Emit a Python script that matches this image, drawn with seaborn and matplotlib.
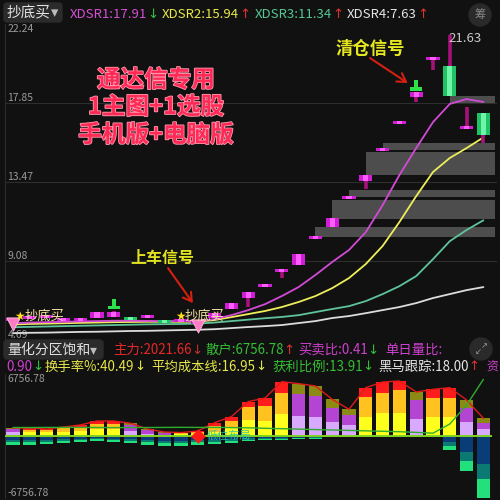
import matplotlib
matplotlib.use("Agg")
import matplotlib.pyplot as plt
import matplotlib.patheffects as pe
from matplotlib.patches import FancyBboxPatch, Circle
from matplotlib.path import Path
import numpy as np
import pandas as pd
import seaborn as sns

# ===== 主图 K线 (29 根) =====
opens = [5.74, 5.85, 5.91, 5.74, 5.74, 5.91, 5.96, 5.96, 5.93, 5.80, 5.70, 5.60, 5.91, 6.41, 7.02,
         7.63, 8.46, 8.85, 10.29, 10.96, 12.50, 13.52, 15.18, 16.68, 18.18, 20.25, 19.90, 16.40, 17.30]
closes = [5.80, 5.91, 5.96, 5.80, 5.91, 6.24, 6.24, 5.80, 5.99, 5.63, 5.76, 5.70, 6.18, 6.74, 7.35,
          7.79, 8.63, 9.46, 10.41, 11.46, 12.63, 13.85, 15.30, 16.80, 18.46, 20.37, 18.24, 16.52, 16.07]
highs = [5.80, 5.91, 5.96, 5.80, 5.91, 6.24, 6.30, 5.96, 5.99, 5.80, 5.76, 5.70, 6.18, 6.74, 7.35,
         7.79, 8.63, 9.46, 10.41, 11.46, 12.63, 13.85, 15.30, 16.80, 18.46, 20.37, 21.63, 17.63, 17.30]
lows = [5.74, 5.85, 5.91, 5.74, 5.74, 5.91, 5.96, 5.80, 5.93, 5.63, 5.70, 5.60, 5.91, 6.41, 6.52,
        7.63, 8.13, 8.85, 10.29, 10.96, 12.50, 13.07, 15.18, 16.68, 17.90, 19.69, 18.24, 16.40, 15.63]

# 均线
xdsr1 = [5.62, 5.66, 5.68, 5.70, 5.72, 5.74, 5.76, 5.76, 5.75, 5.74, 5.74, 5.75, 5.85, 6.07, 6.35,
         6.68, 7.13, 7.63, 8.30, 9.02, 9.69, 10.68, 12.18, 13.85, 15.35, 16.79, 17.80, 18.07, 17.91]
xdsr2 = [5.55, 5.58, 5.60, 5.62, 5.64, 5.66, 5.68, 5.69, 5.70, 5.70, 5.70, 5.71, 5.80, 5.96, 6.13,
         6.30, 6.52, 6.80, 7.13, 7.57, 8.13, 8.91, 9.91, 11.24, 12.68, 14.02, 14.80, 15.35, 15.94]
xdsr3 = [5.40, 5.42, 5.44, 5.46, 5.48, 5.50, 5.52, 5.54, 5.56, 5.57, 5.58, 5.60, 5.66, 5.74, 5.82,
         5.90, 5.97, 6.07, 6.24, 6.41, 6.57, 6.85, 7.24, 7.68, 8.24, 9.18, 10.18, 10.80, 11.34]
xdsr4 = [5.07, 5.09, 5.10, 5.12, 5.14, 5.15, 5.17, 5.19, 5.20, 5.22, 5.24, 5.26, 5.29, 5.35, 5.41,
         5.46, 5.52, 5.63, 5.74, 5.91, 6.02, 6.18, 6.35, 6.52, 6.74, 7.02, 7.24, 7.46, 7.63]

# 灰色筹码区
zone_start = [18, 19, 20, 21, 22, 26]
zone_low = [10.41, 11.41, 12.63, 13.85, 15.24, 17.85]
zone_high = [10.96, 12.46, 13.02, 15.13, 15.63, 18.24]

buy_idx = [0, 11]
sell_idx = [6, 24]
price_ticks = [22.24, 17.85, 13.47, 9.08, 4.69]

# ===== 副图 量化分区饱和 =====
kinds = ['c', 'h', 'h', 'h', 'h', 'h', 'h', 'c', 'c', 'c', 'h', 'h', 'h', 'h', 'h',
         'h', 'h', 'c', 'c', 'c', 'c', 'h', 'h', 'h', 'c', 'h', 'h', 'c', 'c']
seg_bottom = [466, 466, 466, 524, 583, 777, 777, 583, 270, 117, 233, 233, 501, 896, 1864,
              1748, 2524, 2330, 2214, 1670, 1243, 2214, 2641, 2641, 1942, 2214, 2214, 1631, 777]
seg_mid = [350, 291, 233, 350, 385, 583, 583, 664, 466, 233, 117, 175, 664, 896, 1476,
           1748, 2524, 2524, 2447, 1631, 1204, 2330, 2408, 2680, 2214, 2175, 2253, 1670, 777]
seg_top = [117, 175, 117, 175, 315, 388, 388, 233, 80, 117, 50, 175, 385, 466, 664,
           932, 1282, 1243, 1165, 971, 660, 1087, 1243, 1087, 971, 1049, 1165, 893, 505]
neg_vals = [-1050, -1050, -930, -815, -700, -580, -700, -815, -1050, -1200, -1200, -1050, -930, -815, -600,
            -500, -450, -400, -300, -150, -150, -100, -100, -100, -100, -100, -1630, -4080, -7220]
green_line = [990, 990, 1000, 1000, 1000, 990, 980, 980, 990, 1000, 1010, 1000, 1000, 980, 950,
              900, 850, 800, 750, 700, 650, 600, 550, 500, 420, 330, 1400, 3600, 6600]
vol_lim = 6756.78

W, H = 500, 500
BG = '#111111'

sns.set_theme(style='dark', rc={'axes.facecolor': BG, 'figure.facecolor': BG})
plt.rcParams['font.family'] = ['Noto Sans CJK SC', 'DejaVu Sans']
plt.rcParams['axes.unicode_minus'] = False
SYM = ['DejaVu Sans']

fig = plt.figure(figsize=(5, 5), dpi=100)
fig.patch.set_facecolor(BG)


def px_to_idx(p):
    return (p - 13) / 16.8


def fx(x):
    return x / W


def fy(y):
    return 1 - y / H


ax = fig.add_axes([fx(5), fy(340), 492 / W, 316 / H])
ax2 = fig.add_axes([fx(5), fy(498), 492 / W, 124 / H])
for a in (ax, ax2):
    a.set_facecolor(BG)
    a.set_xticks([])
    a.set_yticks([])
    for s in a.spines.values():
        s.set_visible(False)
    a.spines['left'].set_visible(True)
    a.spines['left'].set_color('#2c2c2c')
    a.spines['left'].set_linewidth(0.8)
    a.set_xlim(px_to_idx(5), px_to_idx(497))

n = len(opens)
idx = np.arange(n)
o = np.array(opens)
c = np.array(closes)

# ---- 主图 ----
ax.set_ylim(price_ticks[-1], price_ticks[0])
for v in price_ticks[1:4]:
    ax.axhline(v, color='#2e2e2e', lw=0.8, zorder=0)
ytr = ax.get_yaxis_transform()
for k, v in enumerate(price_ticks):
    ax.text(0.005, v, f'{v:.2f}', transform=ytr, color='#9a9a9a', fontsize=7.5,
            va='top' if k == 0 else 'bottom', ha='left')

zs = np.array(zone_start)
zl = np.array(zone_low)
zh = np.array(zone_high)
right_edge = px_to_idx(495)
ax.barh(y=(zl + zh) / 2, width=right_edge - zs, left=zs, height=zh - zl,
        color='#4d4d4d', linewidth=0, zorder=1)

ma = pd.DataFrame({'idx': idx, 'xdsr1': xdsr1, 'xdsr2': xdsr2, 'xdsr3': xdsr3, 'xdsr4': xdsr4})
for col, clr in [('xdsr4', '#dcdcdc'), ('xdsr3', '#5fc49c'), ('xdsr2', '#eeee5a'), ('xdsr1', '#d44ad8')]:
    sns.lineplot(data=ma, x='idx', y=col, ax=ax, color=clr, lw=1.3, legend=False, zorder=3)
ax.set_xlabel('')
ax.set_ylabel('')

up = c >= o
body_lo = np.minimum(o, c)
body_h = np.maximum(np.abs(c - o), 0.17)
ax.vlines(idx, lows, highs, color='#a8107a', lw=2.6, zorder=4)
ax.bar(idx, body_h, bottom=body_lo, width=0.78, linewidth=0,
       color=np.where(up, '#d01ed4', '#1fc264'), zorder=5)
ax.bar(idx, body_h, bottom=body_lo, width=0.3, linewidth=0,
       color=np.where(up, '#ff5cff', '#70f5a8'), zorder=6)

# 信号
arrow_marker = Path([(-0.3, 1), (0.3, 1), (0.3, 0), (0.9, 0), (0.9, -0.6), (-0.9, -0.6),
                     (-0.9, 0), (-0.3, 0), (-0.3, 1)])
si = np.array(sell_idx)
ax.scatter(si, np.array(highs)[si] + 0.3, marker=arrow_marker, s=85, color='#2ee04a',
           edgecolors='none', zorder=7)
bi = np.array(buy_idx)
ax.scatter(bi, np.array(lows)[bi] - 0.15, marker='v', s=90, color='#ff7cc4',
           edgecolors='#ffc0e0', linewidths=0.6, zorder=7)
for b in buy_idx:
    bx = max(b - 1.36, 0.1)
    ax.text(bx, 5.98, '★', color='#ffe020', fontsize=8.5, va='center', ha='left', zorder=8,
            family=SYM)
    ax.annotate('抄底买', xy=(bx, 5.98), xytext=(10, 0), textcoords='offset pixels',
                color='#f3e3a0', fontsize=9.5, va='center', ha='left', zorder=8)

ax.text(26 - 0.05, highs[26] - 0.2, f'{highs[26]:.2f}', color='#c8c8c8', fontsize=9.5,
        va='center', ha='left', zorder=8)

title_fx = [pe.withStroke(linewidth=1.2, foreground='#ff9ab0')]
for line, ypx in [('通达信专用', 80), ('1主图+1选股', 107), ('手机版+电脑版', 135)]:
    fig.text(fx(156), fy(ypx), line, color='#ff2a55', fontsize=17, fontweight='bold',
             ha='center', va='center', path_effects=title_fx)

arrow_kw = dict(arrowstyle='->,head_length=0.5,head_width=0.3', color='#d42010', lw=1.5,
                shrinkA=0, shrinkB=0)
ax.text(21.25, 20.85, '清仓信号', color='#e8e820', fontsize=12.5, fontweight='bold',
        ha='center', va='center', zorder=9)
ax.annotate('', xy=(sell_idx[1] - 0.5, highs[sell_idx[1]] + 0.5), xytext=(21.25, 20.35),
            arrowprops=arrow_kw, zorder=9)
ax.text(8.87, 9.24, '上车信号', color='#e0e020', fontsize=11.5, fontweight='bold',
        ha='center', va='center', zorder=9)
ax.annotate('', xy=(buy_idx[1] - 0.29, 6.74), xytext=(9.23, 8.68),
            arrowprops=arrow_kw, zorder=9)

# ---- 副图 ----
ax2.set_ylim(-vol_lim * 62 / 58, vol_lim * 62 / 58)
sb = np.array(seg_bottom, dtype=float)
sm = np.array(seg_mid, dtype=float)
st = np.array(seg_top, dtype=float)
hot = np.array(kinds) == 'h'
bw = 0.78
ax2.bar(idx, sb, width=bw, linewidth=0, color=np.where(hot, '#ffff1e', '#d9a8ff'), zorder=2)
ax2.bar(idx, sm, bottom=sb, width=bw, linewidth=0, color=np.where(hot, '#ffc21e', '#b444d2'), zorder=2)
ax2.bar(idx, st, bottom=sb + sm, width=bw, linewidth=0, color=np.where(hot, '#ff1c1c', '#8a8a14'), zorder=2)

nv = np.array(neg_vals, dtype=float)
ax2.bar(idx, nv * 0.45, width=bw, linewidth=0, color='#0a3c78', zorder=2)
ax2.bar(idx, nv * 0.25, bottom=nv * 0.45, width=bw, linewidth=0, color='#0b7a72', zorder=2)
ax2.bar(idx, nv * 0.30, bottom=nv * 0.70, width=bw, linewidth=0, color='#22e07c', zorder=2)

ax2.hlines(0, -0.45, n - 0.5, color='#7ed321', lw=1.4, zorder=3)
sub = pd.DataFrame({'idx': idx, 'top': sb + sm + st, 'green': green_line})
sns.lineplot(data=sub, x='idx', y='top', ax=ax2, color='#e01a1a', lw=1.0, legend=False, zorder=4)
sns.lineplot(data=sub, x='idx', y='green', ax=ax2, color='#2eae2e', lw=1.0, legend=False, zorder=4)
ax2.set_xlabel('')
ax2.set_ylabel('')
ax2.scatter([buy_idx[1]], [0], marker='D', s=55, color='#ff1a1a', linewidths=0, zorder=6)
ax2.text(buy_idx[1] + 0.55, 0, '低位布局', color='#22c8a8', fontsize=8, va='center',
         ha='left', zorder=7, alpha=0.9)
ytr2 = ax2.get_yaxis_transform()
ax2.text(0.005, vol_lim * 62 / 58, f'{vol_lim:.2f}', transform=ytr2, color='#9a9a9a',
         fontsize=7.5, va='top', ha='left')
ax2.text(0.005, -vol_lim * 62 / 58, f'-{vol_lim:.2f}', transform=ytr2, color='#9a9a9a',
         fontsize=7.5, va='bottom', ha='left')

# ---- 标题栏 ----
renderer = fig.canvas.get_renderer()


def pieces(x_px, y_px, items, size=9.6):
    x = x_px
    for item in items:
        s, clr = item[0], item[1]
        fam = SYM if s in ('↓', '↑', '▾') else None
        t = fig.text(fx(x), fy(y_px), s, color=clr, fontsize=size, va='center', ha='left',
                     family=fam)
        x += t.get_window_extent(renderer).width


fig.patches.append(FancyBboxPatch((fx(4), fy(22)), 58 / W, 19 / H,
                                  boxstyle='round,pad=0,rounding_size=0.006',
                                  transform=fig.transFigure, color='#2b2b2b'))
pieces(7, 13, [('抄底买', '#e6e6e6'), ('▾', '#bbbbbb')], size=10.5)
pieces(70, 14, [('XDSR1:17.91', '#d64fd6'), ('↓', '#30c040')], size=9.5)
pieces(162, 14, [('XDSR2:15.94', '#e8e84a'), ('↑', '#e03030')], size=9.5)
pieces(255, 14, [('XDSR3:11.34', '#55c795'), ('↑', '#e03030')], size=9.5)
pieces(347, 14, [('XDSR4:7.63', '#e6e6e6'), ('↑', '#e03030')], size=9.5)
fig.patches.append(Circle((fx(480), fy(15)), 11 / W, transform=fig.transFigure, color='#2a2a2a'))
fig.text(fx(480), fy(15), '筹', color='#8a8a8a', fontsize=8, ha='center', va='center')

fig.patches.append(FancyBboxPatch((fx(4), fy(359)), 99 / W, 19 / H,
                                  boxstyle='round,pad=0,rounding_size=0.006',
                                  transform=fig.transFigure, color='#2b2b2b'))
pieces(7, 350, [('量化分区饱和', '#e0e0e0'), ('▾', '#bbbbbb')], size=10)
pieces(113, 350, [('主力:2021.66', '#e82828'), ('↓', '#c03030')])
pieces(205, 350, [('散户:6756.78', '#34c034'), ('↑', '#e03030')])
pieces(298, 350, [('买卖比:0.41', '#d040d0'), ('↓', '#30c040')])
pieces(385, 350, [('单日量比:', '#d040d0')])
pieces(6, 367, [('0.90', '#d040d0'), ('↓', '#30c040')])
pieces(45, 367, [('换手率%:40.49', '#e6e64a'), ('↓', '#e6e64a')])
pieces(151, 367, [('平均成本线:16.95', '#e6e64a'), ('↓', '#e6e64a')])
pieces(272, 367, [('获利比例:13.91', '#34c034'), ('↓', '#34c034')])
pieces(378, 367, [('黑马跟踪:18.00', '#e6e6e6'), ('↑', '#e03030')])
pieces(486, 367, [('资', '#d040d0')], size=8.5)
fig.patches.append(Circle((fx(481), fy(349)), 11 / W, transform=fig.transFigure, color='#2a2a2a'))
fig.text(fx(484), fy(346), '↗', color='#9a9a9a', fontsize=6, ha='center', va='center', family=SYM)
fig.text(fx(478), fy(352), '↙', color='#9a9a9a', fontsize=6, ha='center', va='center', family=SYM)

fig.savefig('out.png', dpi=100, facecolor=BG)
